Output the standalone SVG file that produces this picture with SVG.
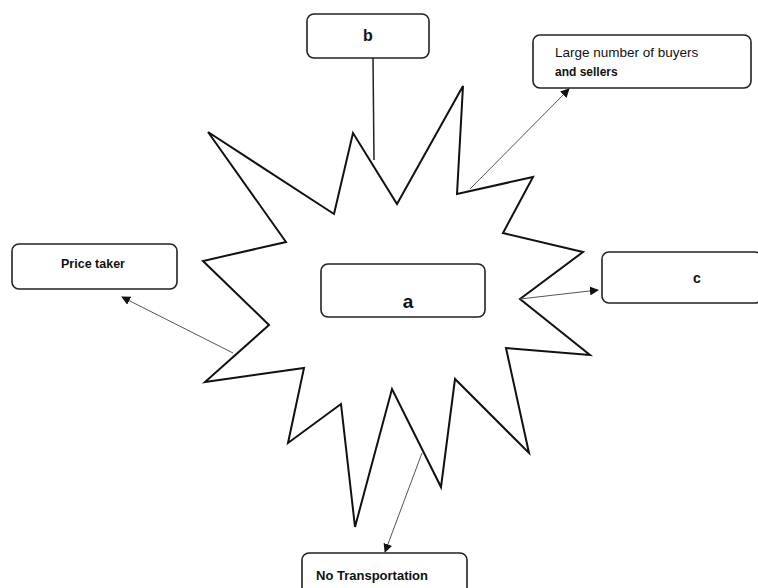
<svg xmlns="http://www.w3.org/2000/svg" width="758" height="588" viewBox="0 0 758 588">
<style>
.box{fill:#fff;stroke:#222;stroke-width:1.6}
.lbl{font-family:"Liberation Sans",Arial,sans-serif;fill:#111}
.b{font-weight:bold}
.con{stroke:#555;stroke-width:1;fill:none}
</style>
<defs>
<marker id="ah" viewBox="0 0 10 10" refX="9" refY="5" markerWidth="9" markerHeight="9" markerUnits="userSpaceOnUse" orient="auto">
<path d="M0,0 L10,5 L0,10 z" fill="#111"/>
</marker>
</defs>
<rect width="758" height="588" fill="#fff"/>
<g id="burst">
<polygon points="208,132 334,214 353,133 397,204 463,86 457,194 533,177 503,233 583,252 520,299 590,355 506,348 529,453 455,379 441,487 392,389 355,527 341,404 288,443 304,368 205,382 269,325 203,261 286,242" fill="#fff" stroke="#111" stroke-width="2" stroke-linejoin="miter"/>
</g>
<g id="connectors">
<line x1="373" y1="58" x2="374" y2="160" stroke="#222" stroke-width="1.5"/>
<line class="con" x1="470" y1="189" x2="569" y2="89" marker-end="url(#ah)"/>
<line class="con" x1="233" y1="353" x2="122" y2="297" marker-end="url(#ah)"/>
<line class="con" x1="520" y1="299" x2="598" y2="290" marker-end="url(#ah)"/>
<line class="con" x1="422" y1="453" x2="385" y2="552" stroke="#222" marker-end="url(#ah)"/>
</g>
<g id="node-a">
<rect class="box" x="321" y="264" width="164" height="53" rx="7"/>
<text class="lbl b" x="408" y="308" font-size="19" text-anchor="middle">a</text>
</g>
<g id="node-b">
<rect class="box" x="307" y="14" width="122" height="44" rx="7"/>
<text class="lbl b" x="368" y="41" font-size="16" text-anchor="middle">b</text>
</g>
<g id="node-large">
<rect class="box" x="533" y="35" width="218" height="53" rx="7"/>
<text class="lbl" x="555" y="57" font-size="13.5">Large number of buyers</text>
<text class="lbl" x="555" y="76" font-size="12" font-weight="600">and sellers</text>
</g>
<g id="node-price">
<rect class="box" x="12" y="244" width="165" height="45" rx="7"/>
<text class="lbl b" x="93" y="268" font-size="12.5" text-anchor="middle">Price taker</text>
</g>
<g id="node-c">
<rect class="box" x="602" y="252" width="160" height="51" rx="7"/>
<text class="lbl b" x="697" y="283" font-size="14" text-anchor="middle">c</text>
</g>
<g id="node-notransport">
<rect class="box" x="302" y="553" width="165" height="45" rx="7"/>
<text class="lbl b" x="372" y="580" font-size="13" text-anchor="middle">No Transportation</text>
</g>
</svg>
